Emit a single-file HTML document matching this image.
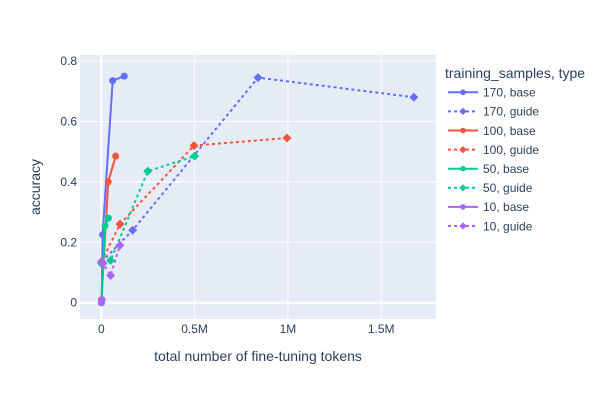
<!DOCTYPE html>
<html><head><meta charset="utf-8"><style>
body{margin:0;background:#fff;font-family:"Liberation Sans",sans-serif;}
svg text{font-family:"Liberation Sans",sans-serif;fill:#2a3f5f;}
</style></head><body>
<svg id="c" width="600" height="400"></svg>
<script>
const seriesNames=["170, base","170, guide","100, base","100, guide","50, base","50, guide","10, base","10, guide"];
const colors=["#636efa","#636efa","#EF553B","#EF553B","#00cc96","#00cc96","#ab63fa","#ab63fa"];
const xs170b=[1700,7000,61000,123000], ys170b=[0,0.225,0.735,0.75];
const xs170g=[1700,168000,840000,1675000], ys170g=[0.135,0.24,0.745,0.68];
const xs100b=[1000,37000,77000], ys100b=[0.01,0.4,0.485];
const xs100g=[1000,100000,497000,995000], ys100g=[0.135,0.26,0.52,0.545];
const xs50b=[500,20000,38000], ys50b=[0,0.255,0.28];
const xs50g=[500,50000,249000,500000], ys50g=[0.13,0.14,0.435,0.485];
const xs10b=[100,4000], ys10b=[0,0.01];
const xs10g=[100,9000,50000,100000], ys10g=[0.135,0.13,0.09,0.19];
const xTicks=[0,500000,1000000,1500000], xTickLabels=["0","0.5M","1M","1.5M"];
const yTicks=[0,0.2,0.4,0.6,0.8], yTickLabels=["0","0.2","0.4","0.6","0.8"];
const allX=[xs170b,xs170g,xs100b,xs100g,xs50b,xs50g,xs10b,xs10g];
const allY=[ys170b,ys170g,ys100b,ys100g,ys50b,ys50g,ys10b,ys10g];
const NS="http://www.w3.org/2000/svg",svg=document.getElementById('c');
const L=80,R=436,T=55,B=319;
const xS=v=>101.3+v/500000*93.3, yS=v=>302.7-v/0.8*241.7;
function el(t,a,p){const e=document.createElementNS(NS,t);for(const k in a)e.setAttribute(k,a[k]);(p||svg).appendChild(e);return e;}
const bg=el('rect',{x:L,y:T,width:R-L,height:B-T,fill:'#e5ecf6'});


xTicks.forEach((v,i)=>{
 const g=el('line',{x1:xS(v),x2:xS(v),y1:T,y2:B,stroke:'#fff','stroke-width':v===0?2:1});
 
 
 const t=el('text',{x:xS(v),y:333,'text-anchor':'middle','font-size':12});t.textContent=xTickLabels[i];
 
 
});
yTicks.forEach((v,i)=>{
 const g=el('line',{x1:L,x2:R,y1:yS(v),y2:yS(v),stroke:'#fff','stroke-width':v===0?2:1});
 
 
 const t=el('text',{x:77,y:yS(v)+4,'text-anchor':'end','font-size':12});t.textContent=yTickLabels[i];
 
 
});
const xt=el('text',{x:258,y:361,'text-anchor':'middle','font-size':14});xt.textContent='total number of fine-tuning tokens';


const yt=el('text',{x:40,y:187,'text-anchor':'middle','font-size':14,transform:'rotate(-90 40 187)'});yt.textContent='accuracy';


function marker(x,y,c,dia,p,s){
 s=s||1;
 if(dia){const d=4.5*s;return el('path',{d:`M${x-d},${y}L${x},${y-d}L${x+d},${y}L${x},${y+d}Z`,fill:c},p);}
 return el('circle',{cx:x,cy:y,r:3.5*s,fill:c},p);
}
allX.forEach((xa,s)=>{
 const g=el('g',{});
 
 
 const dia=s%2===1;
 el('polyline',{points:xa.map((x,i)=>xS(x)+','+yS(allY[s][i])).join(' '),fill:'none',stroke:colors[s],'stroke-width':2,'stroke-dasharray':dia?'3,3':''},g);
 xa.forEach((x,i)=>{const m=marker(xS(x),yS(allY[s][i]),colors[s],dia,g);
  
  });
});
const lt=el('text',{x:445,y:78,'font-size':14});lt.textContent='training_samples, type';


seriesNames.forEach((n,i)=>{
 const y=92.3+i*19.1,g=el('g',{});
 
 
 const dia=i%2===1;
 el('line',{x1:448,x2:478,y1:y,y2:y,stroke:colors[i],'stroke-width':2,'stroke-dasharray':dia?'3,3':''},g);
 marker(463,y,colors[i],dia,g,0.8);
 const t=el('text',{x:483,y:y+4.3,'font-size':12},g);t.textContent=n;
});
</script>
</body></html>
